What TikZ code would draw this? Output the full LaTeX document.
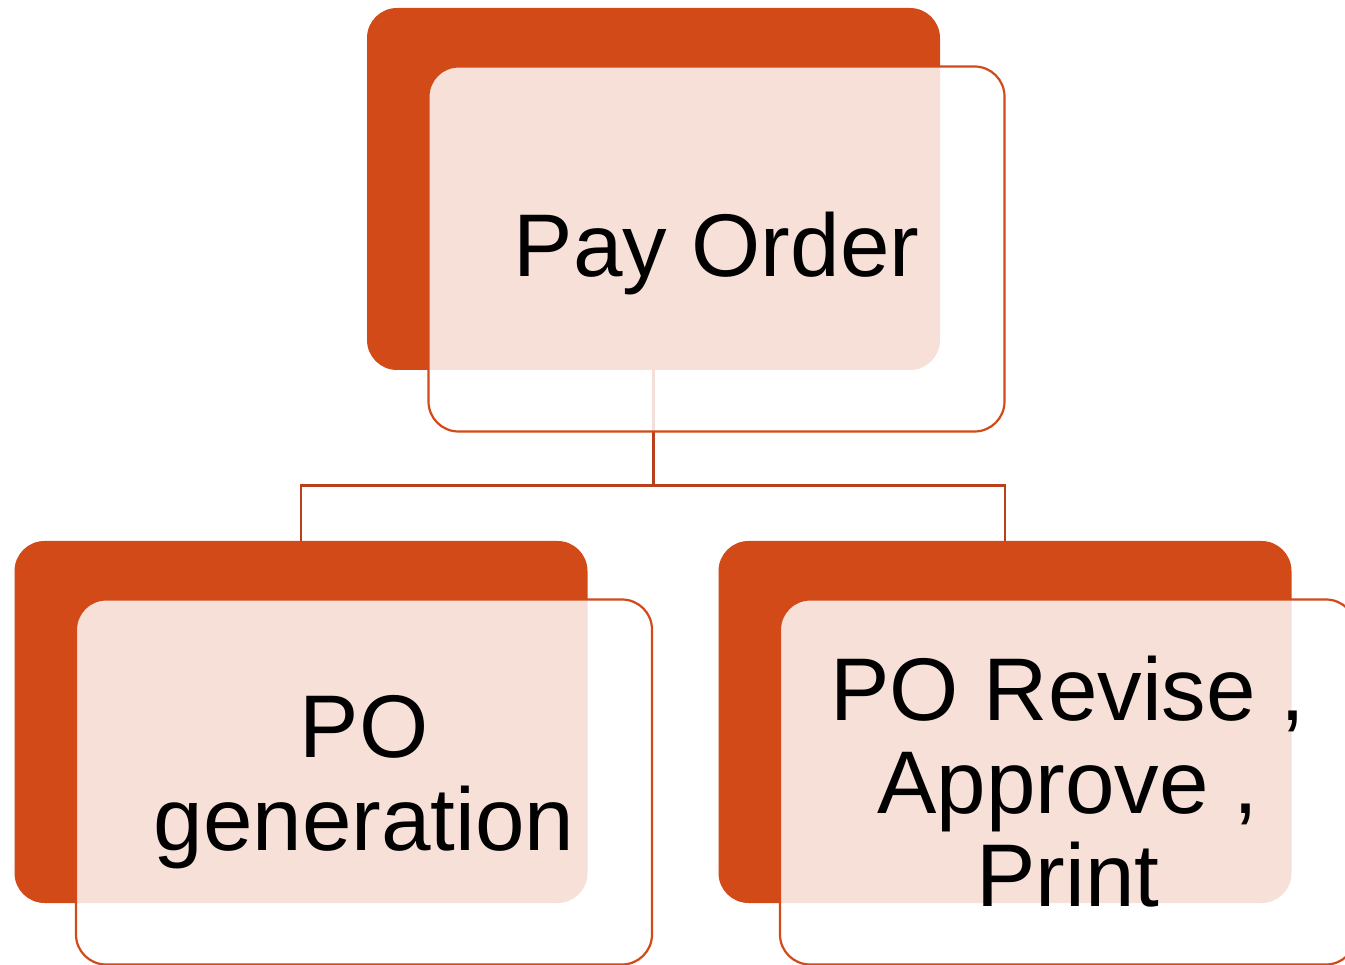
\documentclass[tikz,border=0pt]{standalone}
\usepackage{fontspec}
\setmainfont{Liberation Sans}
\usetikzlibrary{calc,positioning}
\definecolor{poorange}{RGB}{209,74,24}
\definecolor{polink}{RGB}{184,64,28}

\begin{document}
\begin{tikzpicture}[x=1pt,y=-1pt,
    backbox/.style={rectangle,rounded corners=30pt,fill=poorange,inner sep=0pt,minimum width=573pt,minimum height=362pt},
    frontbox/.style={rectangle,rounded corners=30pt,draw=poorange,line width=2.2pt,fill=white,fill opacity=0.83,text opacity=1,
      inner sep=0pt,minimum width=576pt,minimum height=365pt,align=center,font=\fontsize{89}{93}\selectfont},
    link/.style={draw=polink,line width=2.8pt}]
    \useasboundingbox (0,0) rectangle (1345,965);
    \clip (0,0) rectangle (1345,965);

    \node at (653.5,189) [backbox] (payback) {};
    \node at (301,722) [backbox] (genback) {};
    \node at (1005,722) [backbox] (revback) {};

    % tree lines, the top one shows faintly through the front box
    \coordinate (fork) at ([yshift=-115pt] payback.south);
    \draw[link] (payback.south) -- (fork);
    \draw[link] (genback.north) |- (fork) -| (revback.north);

    \node at ([xshift=63pt,yshift=-60pt] payback.center) [frontbox,text height=75pt,text depth=19pt] (pay) {Pay Order};
    \node at ([xshift=63pt,yshift=-60pt] genback.center) [frontbox] (gen) {PO\\generation};
    \node at ([xshift=63pt,yshift=-60pt] revback.center) [frontbox] (rev) {PO Revise ,\\Approve ,\\Print};
\end{tikzpicture}
\end{document}
